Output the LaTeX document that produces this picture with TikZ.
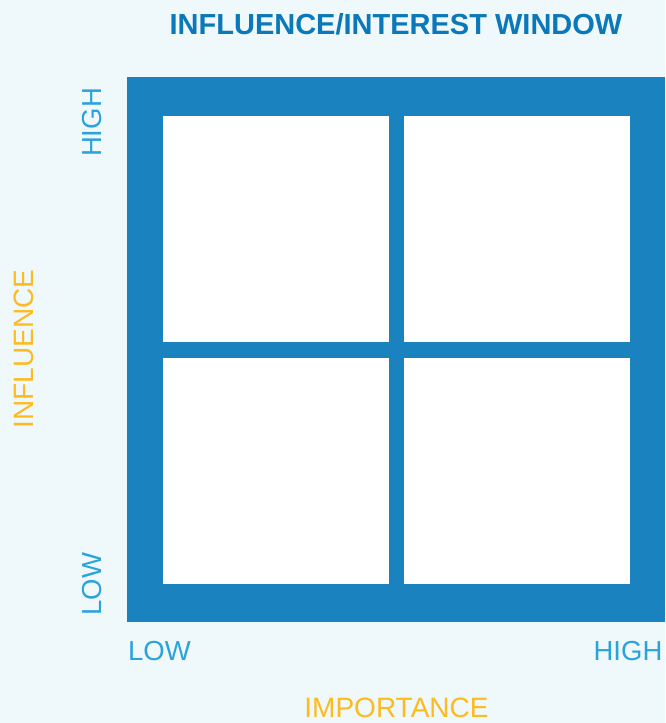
\documentclass[tikz,border=0pt]{standalone}
\usepackage{fontspec}
\setmainfont{Liberation Sans}
\usepackage{tikz}
\definecolor{pagebg}{HTML}{EFF8FB}
\definecolor{gridblue}{HTML}{1A83BF}
\definecolor{titleblue}{HTML}{0B78B9}
\definecolor{tickblue}{HTML}{2AA3DD}
\definecolor{axisyellow}{HTML}{FDBB1F}
\tikzset{
  gridbox/.style={fill=gridblue, inner sep=0pt, minimum width=538pt, minimum height=545pt},
  quadrant/.style={fill=white, inner sep=0pt, minimum size=226pt},
  ticklabel/.style={text=tickblue, inner sep=0pt, font=\fontsize{27.5}{30}\selectfont},
  axislabel/.style={text=axisyellow, inner sep=0pt, font=\fontsize{28}{30}\selectfont},
  titlelabel/.style={text=titleblue, inner sep=0pt, font=\fontsize{29}{32}\selectfont\bfseries}
}

\begin{document}
\begin{tikzpicture}[x=1pt, y=-1pt]
  \fill[pagebg] (0,0) rectangle (665,723);
  \useasboundingbox (0,0) rectangle (665,723);

  \node[titlelabel] (title) at (396,24.5) {INFLUENCE/INTEREST WINDOW};

  % the window
  \node[gridbox] (window) at (396,349.5) {};
  \node[quadrant] (q11) at (276,229) {};
  \node[quadrant] (q12) at (517,229) {};
  \node[quadrant] (q21) at (276,471) {};
  \node[quadrant] (q22) at (517,471) {};

  % vertical axis
  \node[ticklabel, rotate=90] (yhigh) at (92.5,122.5) {HIGH};
  \node[ticklabel, rotate=90] (ylow) at (92.5,584) {LOW};
  \node[axislabel, rotate=90] (yname) at (23.5,349) {INFLUENCE};

  % horizontal axis
  \node[ticklabel] (xlow) at (159.5,651) {LOW};
  \node[ticklabel] (xhigh) at (628,651) {HIGH};
  \node[axislabel] (xname) at (396.5,707.5) {IMPORTANCE};
\end{tikzpicture}
\end{document}
